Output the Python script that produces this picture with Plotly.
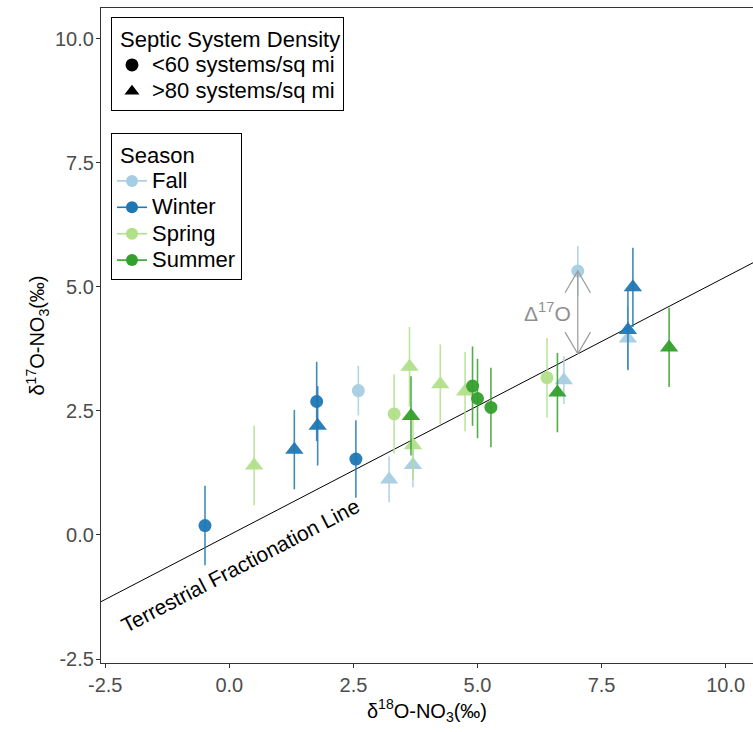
import plotly.graph_objects as go

# ---- data ----
season = ["Winter", "Spring", "Winter", "Winter", "Winter", "Fall", "Winter", "Fall",
          "Spring", "Spring", "Summer", "Spring", "Fall", "Spring", "Spring", "Summer",
          "Summer", "Summer", "Fall", "Spring", "Fall", "Summer", "Winter", "Winter",
          "Fall", "Summer"]
density = ["<60", ">80", ">80", "<60", ">80", "<60", "<60", ">80",
           "<60", ">80", ">80", ">80", ">80", ">80", ">80", "<60",
           "<60", "<60", "<60", "<60", ">80", ">80", ">80", ">80",
           ">80", ">80"]
d18O = [-0.49, 0.50, 1.31, 1.76, 1.78, 2.60, 2.55, 3.22,
        3.32, 3.63, 3.66, 3.70, 3.70, 4.25, 4.75, 4.90,
        5.00, 5.27, 7.02, 6.40, 6.74, 6.61, 8.13, 8.03,
        8.03, 8.86]
d17O = [0.19, 1.40, 1.72, 2.69, 2.20, 2.91, 1.53, 1.12,
        2.44, 3.39, 2.40, 1.81, 1.41, 3.04, 2.89, 3.00,
        2.75, 2.57, 5.32, 3.17, 3.12, 2.87, 4.99, 4.13,
        3.96, 3.78]
err = [0.80, 0.80, 0.80, 0.80, 0.80, 0.50, 0.78, 0.46,
       0.80, 0.80, 0.80, 0.70, 0.45, 0.80, 0.80, 0.80,
       0.80, 0.80, 0.50, 0.80, 0.48, 0.80, 0.80, 0.80,
       0.65, 0.80]

seasons = ["Fall", "Winter", "Spring", "Summer"]
season_colors = {"Fall": "#a6cee3", "Winter": "#1f78b4", "Spring": "#b2df8a", "Summer": "#33a02c"}
density_levels = ["<60", ">80"]
density_labels = {"<60": "&lt;60 systems/sq mi", ">80": "&gt;80 systems/sq mi"}
density_symbols = {"<60": "circle", ">80": "triangle-up"}
density_sizes = {"<60": 13, ">80": 16}

tff_slope = 0.52          # terrestrial fractionation line: d17O = 0.52 * d18O
x_range = [-2.585, 10.55]
y_range = [-2.58, 10.62]
x_ticks = [-2.5, 0.0, 2.5, 5.0, 7.5, 10.0]
y_ticks = [-2.5, 0.0, 2.5, 5.0, 7.5, 10.0]
tick_labels = ["-2.5", "0.0", "2.5", "5.0", "7.5", "10.0"]


def rgba(hexc, a):
    h = hexc.lstrip("#")
    return "rgba(%d,%d,%d,%.2f)" % (int(h[0:2], 16), int(h[2:4], 16), int(h[4:6], 16), a)


def big(txt):
    return '<span style="font-size:22px">' + txt + '</span>'


fig = go.Figure()

# terrestrial fractionation line
fig.add_trace(go.Scatter(
    x=x_range, y=[tff_slope * v for v in x_range], mode="lines",
    line=dict(color="black", width=1), showlegend=False, hoverinfo="skip"))

# data points with error bars
for s in seasons:
    for d in density_levels:
        idx = [i for i in range(len(season)) if season[i] == s and density[i] == d]
        if not idx:
            continue
        fig.add_trace(go.Scatter(
            x=[d18O[i] for i in idx], y=[d17O[i] for i in idx],
            mode="markers",
            marker=dict(symbol=density_symbols[d], size=density_sizes[d],
                        color=season_colors[s], opacity=0.95, line=dict(width=0)),
            error_y=dict(type="data", array=[err[i] for i in idx], visible=True,
                         color=rgba(season_colors[s], 0.85), thickness=1.6, width=0),
            showlegend=False))

# legend 1: septic system density
for d in density_levels:
    fig.add_trace(go.Scatter(
        x=[None], y=[None], mode="markers", name=big(density_labels[d]),
        marker=dict(symbol=density_symbols[d], size=13, color="black"),
        legend="legend"))

# legend 2: season
for s in seasons:
    fig.add_trace(go.Scatter(
        x=[None], y=[None], mode="lines+markers", name=big(s),
        marker=dict(symbol="circle", size=12, color=season_colors[s]),
        line=dict(color=season_colors[s], width=1.6),
        legend="legend2"))

# Delta17O arrow (from the line up to the highlighted fall point)
ax_i = d18O.index(7.02)
ax = d18O[ax_i]
ay0 = tff_slope * ax
ay1 = d17O[ax_i]
hx, hy = 0.256, 0.437
grey = "#9a9a9a"
fig.add_shape(type="line", x0=ax, x1=ax, y0=ay0, y1=ay1, line=dict(color=grey, width=1.2))
fig.add_shape(type="path",
              path="M %f,%f L %f,%f L %f,%f" % (ax - hx, ay1 - hy, ax, ay1, ax + hx, ay1 - hy),
              line=dict(color=grey, width=1.2))
fig.add_shape(type="path",
              path="M %f,%f L %f,%f L %f,%f" % (ax - hx, ay0 + hy, ax, ay0, ax + hx, ay0 + hy),
              line=dict(color=grey, width=1.2))

fig.add_annotation(x=6.42, y=4.49, text="Δ<sup>17</sup>O", showarrow=False,
                   font=dict(family="Liberation Sans, Arial", size=21, color="#8f8f8f"))
fig.add_annotation(x=0.22, y=-0.62, text="Terrestrial Fractionation Line", showarrow=False,
                   textangle=-27.5,
                   font=dict(family="Liberation Sans, Arial", size=21, color="black"))

axis_common = dict(showgrid=False, zeroline=False, showline=True, linecolor="#333333",
                   linewidth=1.2, ticks="outside", ticklen=4, tickcolor="#333333",
                   tickwidth=1.2, tickfont=dict(size=20, color="#4d4d4d"))

fig.update_layout(
    width=753, height=732,
    margin=dict(l=101, r=0, t=8, b=69),
    paper_bgcolor="white", plot_bgcolor="white",
    font=dict(family="Liberation Sans, Arial, sans-serif", color="black"),
    xaxis=dict(range=x_range, tickmode="array", tickvals=x_ticks, ticktext=tick_labels,
               mirror=True,
               title=dict(text="δ<sup>18</sup>O-NO<sub>3</sub>(‰)", font=dict(size=20, color="black"),
                          standoff=8),
               **axis_common),
    yaxis=dict(range=y_range, tickmode="array", tickvals=y_ticks, ticktext=tick_labels,
               ticklabelstandoff=-2,
               title=dict(text="δ<sup>17</sup>O-NO<sub>3</sub>(‰)", font=dict(size=20, color="black"),
                          standoff=4),
               **axis_common),
    legend=dict(x=0.0153, y=0.986, xanchor="left", yanchor="top",
                bgcolor="white", bordercolor="black", borderwidth=1,
                title=dict(text="&nbsp;Septic System Density", font=dict(size=22)),
                font=dict(size=18), itemwidth=30, tracegroupgap=0),
    legend2=dict(x=0.0153, y=0.809, xanchor="left", yanchor="top",
                 bgcolor="white", bordercolor="black", borderwidth=1,
                 title=dict(text="&nbsp;Season", font=dict(size=22)),
                 font=dict(size=18), itemwidth=30, tracegroupgap=0),
)

fig.write_html("out.html")
